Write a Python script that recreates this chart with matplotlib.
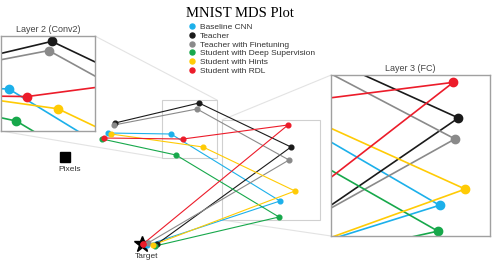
import matplotlib
matplotlib.use('Agg')
import matplotlib.pyplot as plt
from matplotlib.patches import Rectangle, ConnectionPatch
from matplotlib.lines import Line2D

plt.rcParams['font.family'] = ['Liberation Sans', 'DejaVu Sans']

names = ['Baseline CNN', 'Teacher', 'Teacher with Finetuning',
         'Student with Deep Supervision', 'Student with Hints', 'Student with RDL']
colors = ['#1cb0ea', '#1a1a1a', '#8a8a8a', '#17a84b', '#ffcb05', '#ec1c2a']
# MDS coordinates per model: conv1, conv2, fc, output
xs = [[-0.68, 0.58, 2.76, 0.10],
      [-0.54, 1.14, 2.98, 0.30],
      [-0.56, 1.10, 2.94, 0.12],
      [-0.80, 0.68, 2.74, 0.26],
      [-0.62, 1.22, 3.06, 0.22],
      [-0.76, 0.82, 2.92, 0.02]]
ys = [[2.22, 2.20, 0.86, -0.02],
      [2.42, 2.82, 1.94, 0.00],
      [2.38, 2.70, 1.68, 0.02],
      [2.10, 1.78, 0.54, -0.04],
      [2.20, 1.94, 1.06, -0.02],
      [2.12, 2.10, 2.38, 0.00]]
pixels = (-1.54, 1.74)
target = (0.0, 0.0)

# zoom windows (x0, x1, y0, y1)
box1 = (0.40, 1.50, 1.72, 2.88)
lim1 = (0.48, 1.70, 1.65, 2.89)
box2 = (1.60, 3.56, 0.48, 2.48)
lim2 = (1.49, 3.35, 0.48, 2.47)

fig = plt.figure(figsize=(4.92, 2.77), dpi=100)
ax = fig.add_axes([0, 0, 1, 1])
ax.set_xlim(-2.84, 7.0)
ax.set_ylim(-0.66, 4.88)
ax.axis('off')

for i in range(len(names)):
    ax.plot(xs[i], ys[i], '-', color=colors[i], lw=0.8, zorder=3)
    ax.plot(xs[i], ys[i], 'o', color=colors[i], ms=3.4, zorder=4)

ax.plot(*target, marker='*', color='black', ms=12, zorder=2)
ax.plot(xs[5][3], ys[5][3], 'o', color=colors[5], ms=3.6, zorder=5)
ax.text(target[0] + 0.1, target[1] - 0.28, 'Target', fontsize=6, color='#333333', ha='center')
ax.plot(*pixels, marker='s', color='black', ms=6.5)
ax.text(pixels[0] + 0.1, pixels[1] - 0.28, 'Pixels', fontsize=6, color='#333333', ha='center')

for b in [box1, box2]:
    ax.add_patch(Rectangle((b[0], b[2]), b[1] - b[0], b[3] - b[2], fill=False,
                           ec='#d0d0d0', lw=0.8, zorder=1))

fig.text(0.488, 0.95, 'MNIST MDS Plot', family='Liberation Serif', fontsize=10.5,
         ha='center', va='center')

handles = [Line2D([], [], ls='none', marker='o', ms=3.6, color=c) for c in colors]
ax.legend(handles, names, loc='upper left', bbox_to_anchor=(0.372, 0.93), frameon=False,
          fontsize=6, labelspacing=0.1, handletextpad=0.3, handlelength=1.2,
          labelcolor='#333333', borderpad=0)

insets = []
for pos, lim, title in [([0.002, 0.527, 0.191, 0.343], lim1, 'Layer 2 (Conv2)'),
                        ([0.673, 0.148, 0.323, 0.581], lim2, 'Layer 3 (FC)')]:
    a = fig.add_axes(pos)
    for i in range(len(names)):
        a.plot(xs[i], ys[i], '-', color=colors[i], lw=1.2)
        a.plot(xs[i], ys[i], 'o', color=colors[i], ms=6)
    a.set_xlim(lim[0], lim[1])
    a.set_ylim(lim[2], lim[3])
    a.set_xticks([])
    a.set_yticks([])
    for s in a.spines.values():
        s.set_color('#a0a0a0')
        s.set_linewidth(1)
    a.set_title(title, fontsize=6.5, color='#444444', pad=3)
    insets.append(a)

# connector lines from insets to zoom boxes
cons = [(insets[0], (1, 1), (box1[1], box1[3])),
        (insets[0], (0, 0), (box1[0], box1[2])),
        (insets[1], (0, 1), (box2[0], box2[3])),
        (insets[1], (0, 0), (box2[0], box2[2]))]
for a, xyA, xyB in cons:
    con = ConnectionPatch(xyA=xyA, coordsA=a.transAxes, xyB=xyB, coordsB=ax.transData,
                          color='#e3e3e3', lw=0.8, zorder=-1)
    fig.add_artist(con)

fig.savefig('out.png', dpi=100)
